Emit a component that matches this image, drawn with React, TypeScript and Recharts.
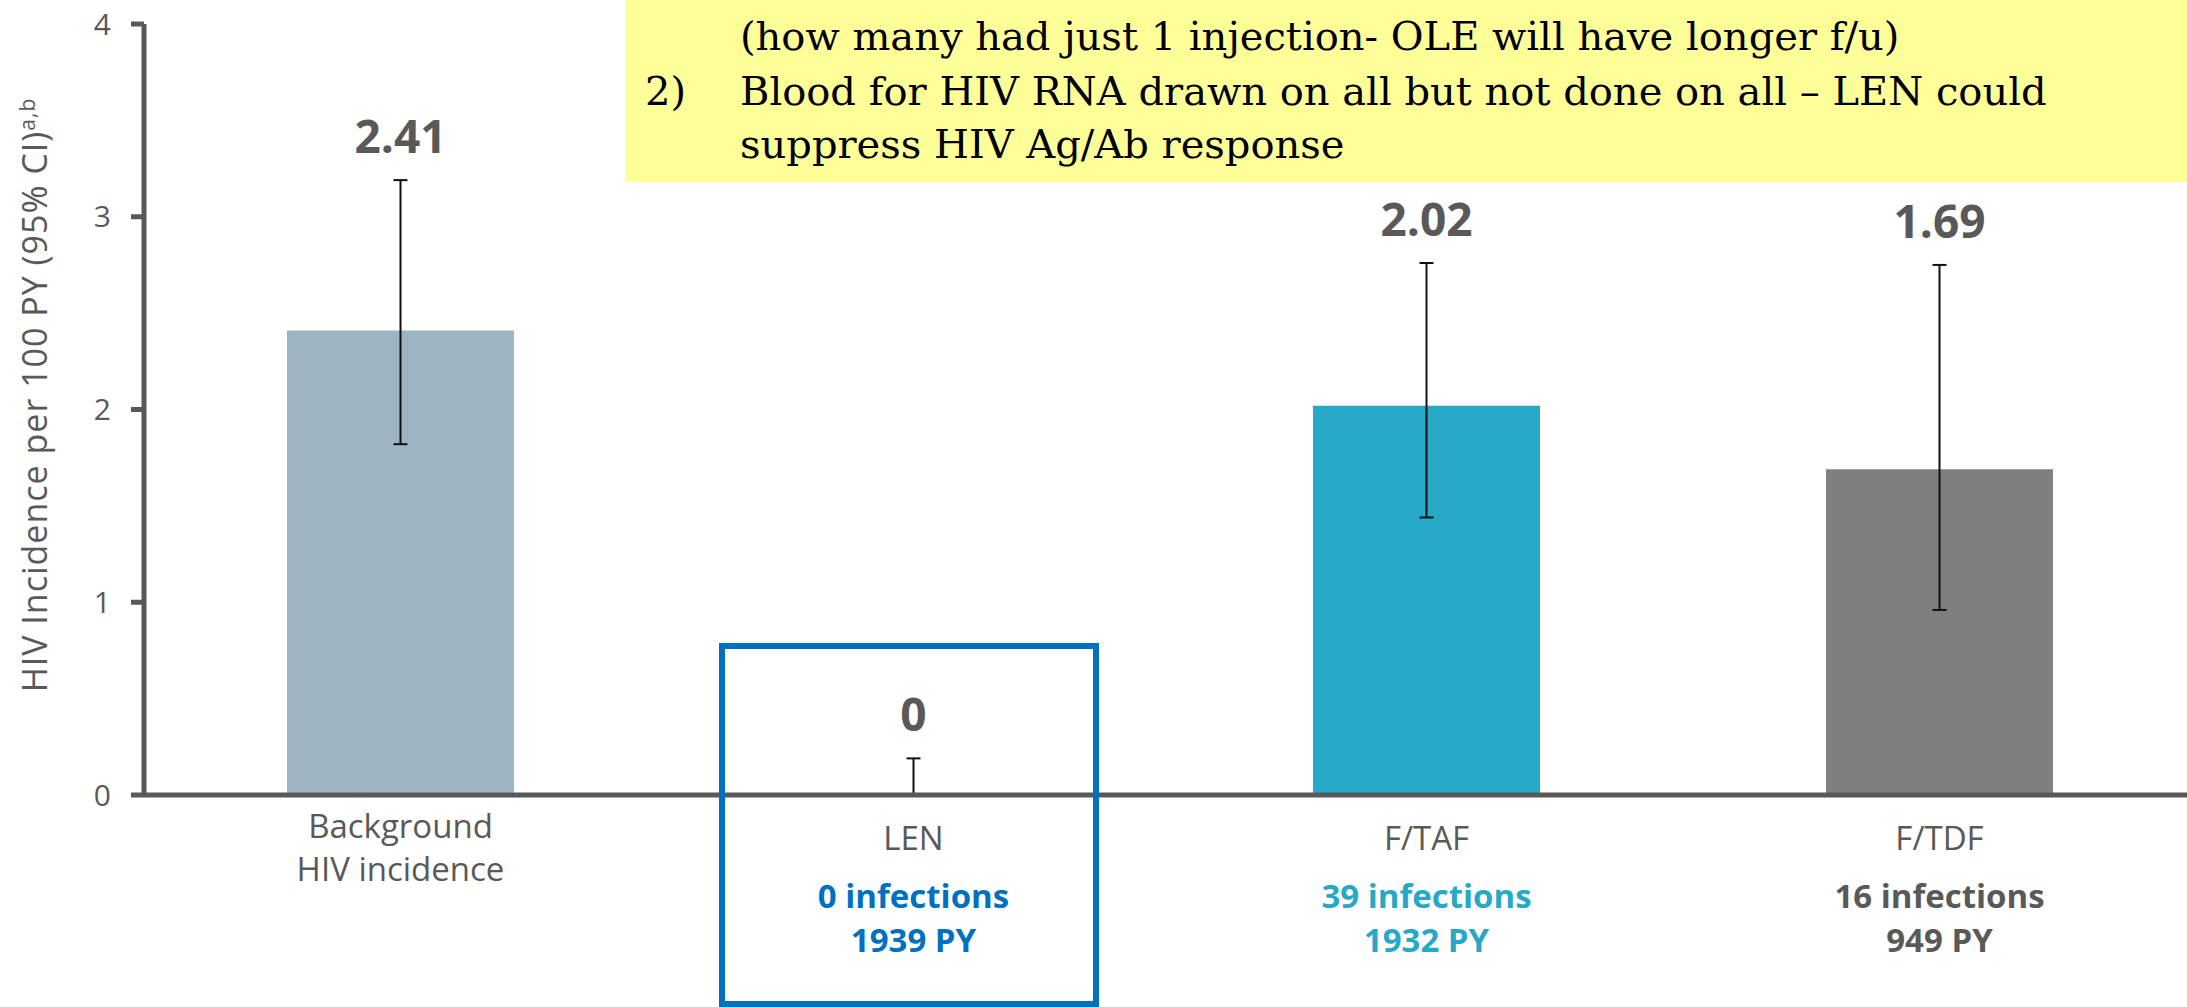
import React from 'react';
import { ComposedChart, Bar, Line, XAxis, YAxis, ErrorBar, LabelList, Label, Cell } from 'recharts';

const categories = ['Background HIV incidence', 'LEN', 'F/TAF', 'F/TDF'];
const nameLines = [['Background', 'HIV incidence'], ['LEN'], ['F/TAF'], ['F/TDF']];
const incidence = [2.41, 0, 2.02, 1.69];
const ciLow = [1.82, 0, 1.44, 0.96];
const ciHigh = [3.19, 0.19, 2.76, 2.75];
const infections = [null, 0, 39, 16];
const personYears = [null, 1939, 1932, 949];
const yTicks = [0, 1, 2, 3, 4];

const barColors = ['#9FB4C2', '#9FB4C2', '#27A8C7', '#7F7F7F'];
const noteColors = ['#595959', '#0070C0', '#27A8C7', '#595959'];

const rows = categories.map((name, i) => ({
    name,
    value: incidence[i],
    lo: ciLow[i],
    hi: ciHigh[i],
}));

const FONT = "'Open Sans', sans-serif";
const GREY = '#595959';

const CategoryTick = (props: any) => {
    const { x, y, payload } = props;
    const i = categories.indexOf(payload.value);
    const lines = nameLines[i];
    const offs = lines.length > 1 ? [43, 86] : [55];
    return (
        <g fontFamily={FONT} textAnchor="middle">
            {lines.map((t, k) => (
                <text key={k} x={x} y={y + offs[k]} fontSize={33} fill={GREY}>{t}</text>
            ))}
            {infections[i] != null && (
                <text x={x} y={y + 113} fontSize={33} fontWeight={700} fill={noteColors[i]}>
                    {infections[i]} infections
                </text>
            )}
            {personYears[i] != null && (
                <text x={x} y={y + 157} fontSize={33} fontWeight={700} fill={noteColors[i]}>
                    {personYears[i]} PY
                </text>
            )}
        </g>
    );
};

const YTitle = () => (
    <text
        transform="translate(47, 395) rotate(-90)"
        textAnchor="middle"
        fontFamily={FONT}
        fontSize={34}
        letterSpacing={1}
        fill={GREY}
    >
        HIV Incidence per 100 PY (95% CI)
        <tspan fontSize={21} dy={-12}>a,b</tspan>
    </text>
);

const noteLine: React.CSSProperties = {
    position: 'absolute',
    fontFamily: "'DejaVu Serif', serif",
    fontSize: 40,
    lineHeight: '55px',
    color: '#000',
    whiteSpace: 'nowrap',
};

const App = () => {
    return (
        <div style={{ position: 'absolute', left: 0, top: 0, width: 2187, height: 1007, overflow: 'hidden', background: '#fff' }}>
            <ComposedChart
                width={2200}
                height={1007}
                data={rows}
                margin={{ top: 24, right: 4, left: 0, bottom: 12 }}
            >
                <XAxis
                    dataKey="name"
                    height={200}
                    tick={<CategoryTick />}
                    tickLine={false}
                    tickSize={0}
                    tickMargin={0}
                    interval={0}
                    axisLine={{ stroke: GREY, strokeWidth: 5 }}
                />
                <YAxis
                    width={144}
                    domain={[0, 4]}
                    ticks={yTicks}
                    tickSize={13}
                    tickMargin={20}
                    tick={{ fontSize: 30, fill: GREY, fontFamily: FONT }}
                    tickLine={{ stroke: GREY, strokeWidth: 5 }}
                    axisLine={{ stroke: GREY, strokeWidth: 5 }}
                >
                    <Label content={<YTitle />} />
                </YAxis>
                <Bar dataKey="value" barSize={227} isAnimationActive={false}>
                    {rows.map((r, i) => (
                        <Cell key={r.name} fill={barColors[i]} />
                    ))}
                </Bar>
                {/* confidence intervals, drawn on an invisible line so the zero bar gets one too */}
                <Line
                    dataKey="value"
                    stroke="none"
                    dot={false}
                    activeDot={false}
                    legendType="none"
                    isAnimationActive={false}
                >
                    <ErrorBar
                        dataKey={(d: any) => [d.value - d.lo, d.hi - d.value]}
                        direction="y"
                        width={7}
                        stroke="#111"
                        strokeWidth={2}
                    />
                </Line>
                <Line
                    dataKey="hi"
                    stroke="none"
                    dot={false}
                    activeDot={false}
                    legendType="none"
                    isAnimationActive={false}
                >
                    <LabelList
                        dataKey="value"
                        position="top"
                        offset={27}
                        formatter={(v: any) => (v === 0 ? '0' : Number(v).toFixed(2))}
                        style={{ fontSize: 46, fontWeight: 700, fill: GREY, fontFamily: FONT }}
                    />
                </Line>
            </ComposedChart>

            <div style={{ position: 'absolute', left: 719, top: 643, width: 380, height: 364, border: '6px solid #0070C0', boxSizing: 'border-box', pointerEvents: 'none' }} />

            <div style={{ position: 'absolute', left: 625, top: 0, width: 1562, height: 182, background: '#FFFF99' }}>
                <div style={{ ...noteLine, left: 115, top: 9 }}>(how many had just 1 injection- OLE will have longer f/u)</div>
                <div style={{ ...noteLine, left: 20, top: 64 }}>2)</div>
                <div style={{ ...noteLine, left: 115, top: 64 }}>Blood for HIV RNA drawn on all but not done on all – LEN could</div>
                <div style={{ ...noteLine, left: 115, top: 117 }}>suppress HIV Ag/Ab response</div>
            </div>
        </div>
    );
};

export default App;
